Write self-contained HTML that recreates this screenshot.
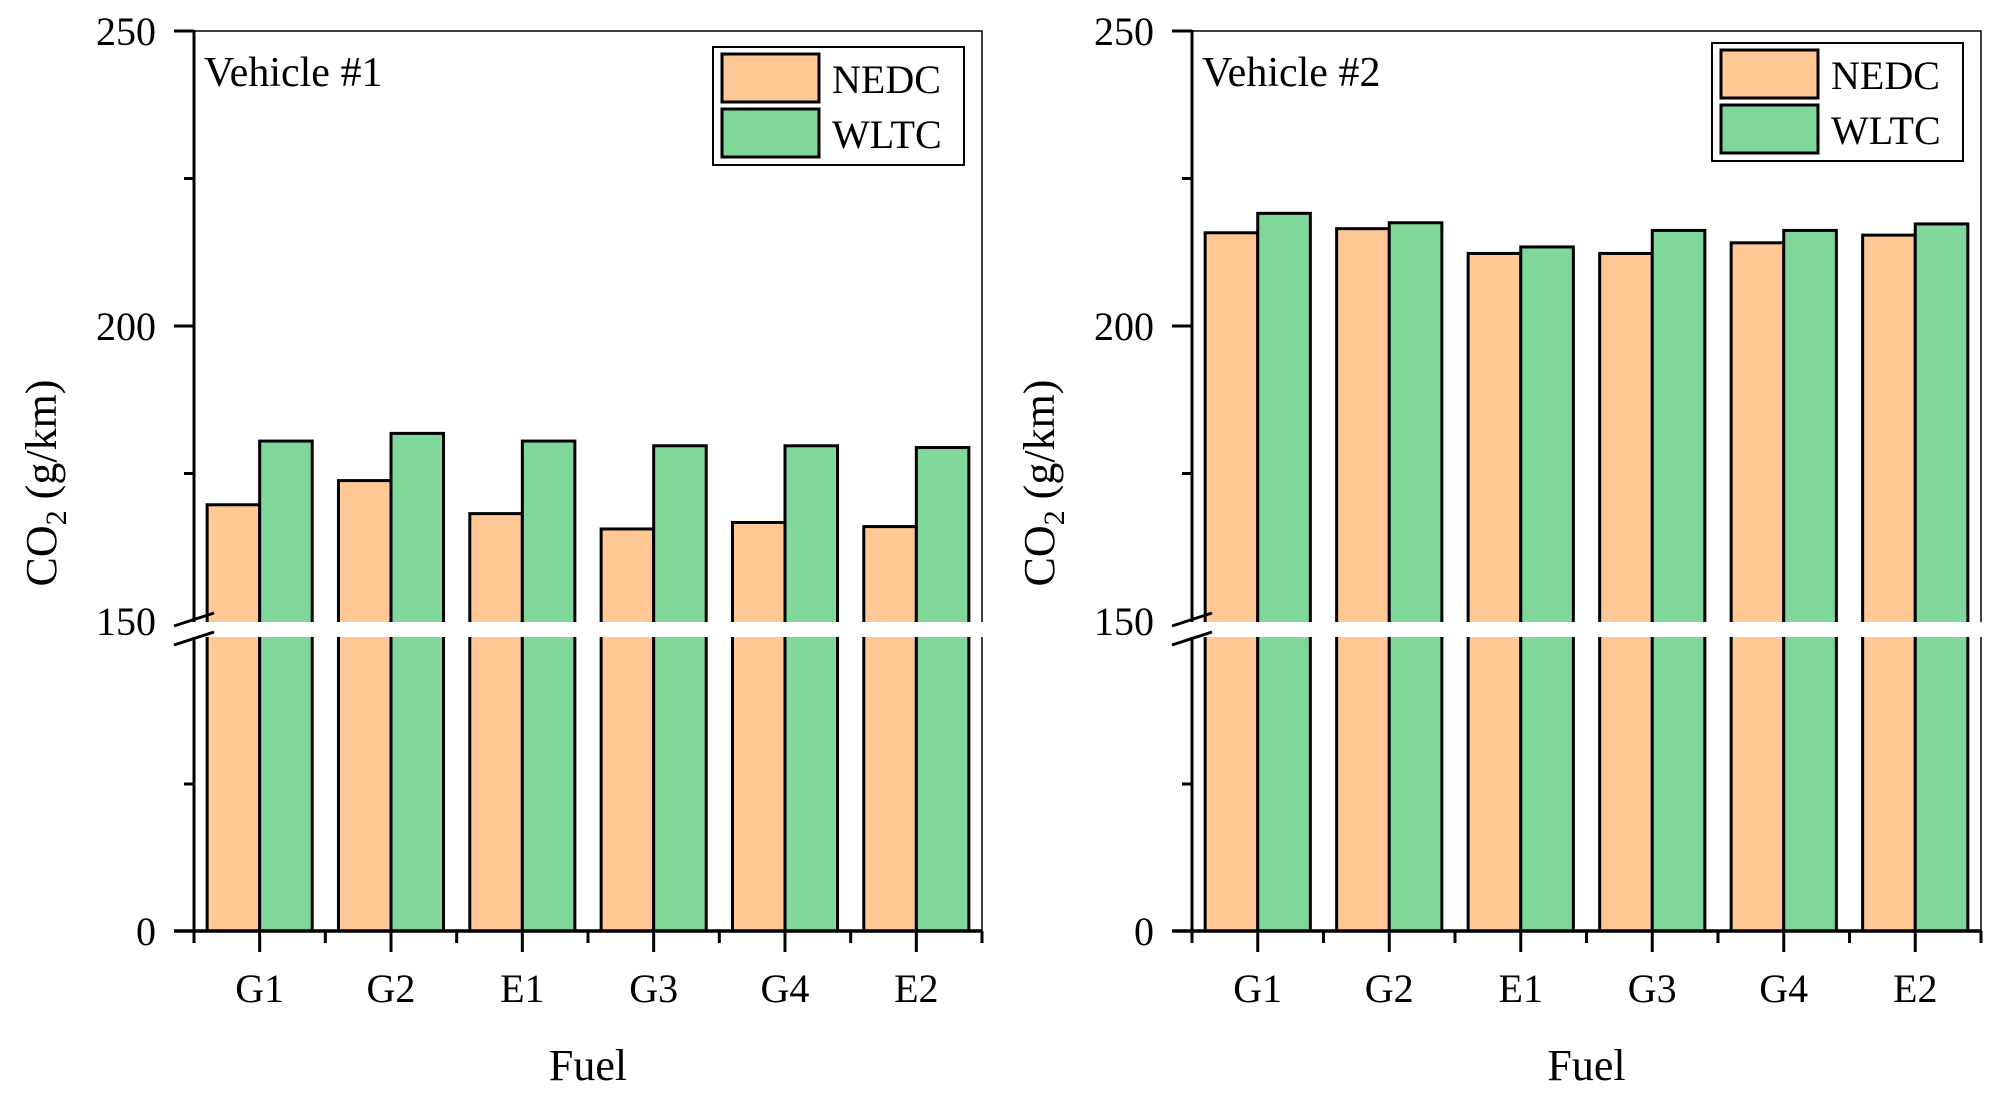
<!DOCTYPE html>
<html><head><meta charset="utf-8"><style>
html,body{margin:0;padding:0;background:#fff;}
svg{display:block;font-family:"Liberation Serif",serif;}
</style></head><body>
<svg id="chart" width="2000" height="1099" viewBox="0 0 2000 1099" xmlns="http://www.w3.org/2000/svg"></svg>
<script>
const categories = ["G1","G2","E1","G3","G4","E2"];
const v1Nedc = [169.7,173.8,168.2,165.6,166.7,166.0];
const v1Wltc = [180.5,181.8,180.5,179.7,179.7,179.4];
const v2Nedc = [215.8,216.5,212.3,212.3,214.1,215.4];
const v2Wltc = [219.1,217.5,213.4,216.2,216.2,217.3];
const upperTicks = [150,200,250];
const upperMinor = [175,225];
const lowerTicks = [0];
const lowerMinor = [75];
const seriesNames = ["NEDC","WLTC"];

const svg = document.getElementById('chart');
const NS = 'http://www.w3.org/2000/svg';
function mk(tag, attrs, parent){
  const e = document.createElementNS(NS, tag);
  for (const k in attrs) e.setAttribute(k, attrs[k]);
  (parent||svg).appendChild(e);
  return e;
}
// y axis with break: 0-150 lower, 150-250 upper
function yScale(v){
  if (v >= 150) return 621 - (v-150)*295/50;
  return 931 - v*294/150;
}
const colors = ["#FFC894","#7FD89A"];

function panel(x0, x1, title, nedc, wltc, legY){
  const g = mk('g', {});
  
  
  const band = (x1-x0)/categories.length;
  const bw = band*0.4;
  // frame top/right
  const fr = mk('path', {d:`M${x0} 31 H${x1} V931`, fill:'none', stroke:'#000', 'stroke-width':1.5}, g);
  
  
  // bars
  const sets = [nedc, wltc];
  sets.forEach((vals, s) => {
    vals.forEach((v, i) => {
      const cx = x0 + band*(i+0.5);
      const bx = s===0 ? cx-bw : cx;
      const yt = yScale(v);
      const r = mk('rect', {x:bx, y:yt, width:bw, height:931-yt, fill:colors[s], stroke:'#000', 'stroke-width':3}, g);
      
      
    });
  });
  // break band
  const br = mk('rect', {x:x0+2, y:622, width:x1-x0+2, height:15, fill:'#fff'}, g);
  
  
  // y axis line
  const ya1 = mk('line', {x1:x0, y1:30, x2:x0, y2:622, stroke:'#000','stroke-width':3}, g);
  
  
  const ya2 = mk('line', {x1:x0, y1:637, x2:x0, y2:933, stroke:'#000','stroke-width':3}, g);
  
  
  // break slashes
  mk('line', {x1:x0-20, y1:626, x2:x0+20, y2:613, stroke:'#000','stroke-width':3}, g);
  mk('line', {x1:x0-20, y1:645, x2:x0+20, y2:632, stroke:'#000','stroke-width':3}, g);
  // y ticks
  upperTicks.concat(lowerTicks).forEach(t => {
    const y = yScale(t);
    if (t !== 150) mk('line', {x1:x0-20, y1:y, x2:x0, y2:y, stroke:'#000','stroke-width':3}, g);
    const tx = mk('text', {x:x0-38, y:y+14, 'font-size':40, 'text-anchor':'end'}, g);
    tx.textContent = t;
    
    
  });
  upperMinor.concat(lowerMinor).forEach(t => {
    const y = yScale(t);
    mk('line', {x1:x0-10, y1:y, x2:x0, y2:y, stroke:'#000','stroke-width':3}, g);
  });
  // x axis
  const xa = mk('line', {x1:x0-20, y1:931, x2:x1, y2:931, stroke:'#000','stroke-width':3.5}, g);
  
  
  for (let i=0;i<=categories.length;i++){
    const x = x0 + band*i;
    mk('line', {x1:x, y1:931, x2:x, y2:943, stroke:'#000','stroke-width':3}, g);
  }
  categories.forEach((c,i) => {
    const cx = x0 + band*(i+0.5);
    mk('line', {x1:cx, y1:931, x2:cx, y2:952, stroke:'#000','stroke-width':3}, g);
    const tx = mk('text', {x:cx, y:1002, 'font-size':40, 'text-anchor':'middle'}, g);
    tx.textContent = c;
    
    
  });
  const xt = mk('text', {x:(x0+x1)/2, y:1080, 'font-size':44, 'text-anchor':'middle'}, g);
  xt.textContent = 'Fuel';
  
  
  // y title
  const yt = mk('text', {x:0, y:0, 'font-size':44, 'text-anchor':'middle', transform:`translate(${x0-138},483) rotate(-90)`}, g);
  yt.innerHTML = 'CO<tspan font-size="30" dy="10">2</tspan><tspan dy="-10"> (g/km)</tspan>';
  
  
  // panel title
  const pt = mk('text', {x:x0+10, y:86, 'font-size':42}, g);
  pt.textContent = title;
  
  
  // legend
  const lx = x1 - 269;
  const lg = mk('g', {}, g);
  
  
  mk('rect', {x:lx, y:legY, width:251, height:118, fill:'#fff', stroke:'#000','stroke-width':2}, lg);
  seriesNames.forEach((n,s) => {
    const sy = legY + 7 + s*55;
    const sw = mk('rect', {x:lx+9, y:sy, width:97, height:48, fill:colors[s], stroke:'#000','stroke-width':3}, lg);
    
    
    const t = mk('text', {x:lx+119, y:sy+39, 'font-size':40}, lg);
    t.textContent = n;
    
    
  });
}
panel(194, 982, 'Vehicle #1', v1Nedc, v1Wltc, 47);
panel(1192, 1981, 'Vehicle #2', v2Nedc, v2Wltc, 43);
</script>
</body></html>
